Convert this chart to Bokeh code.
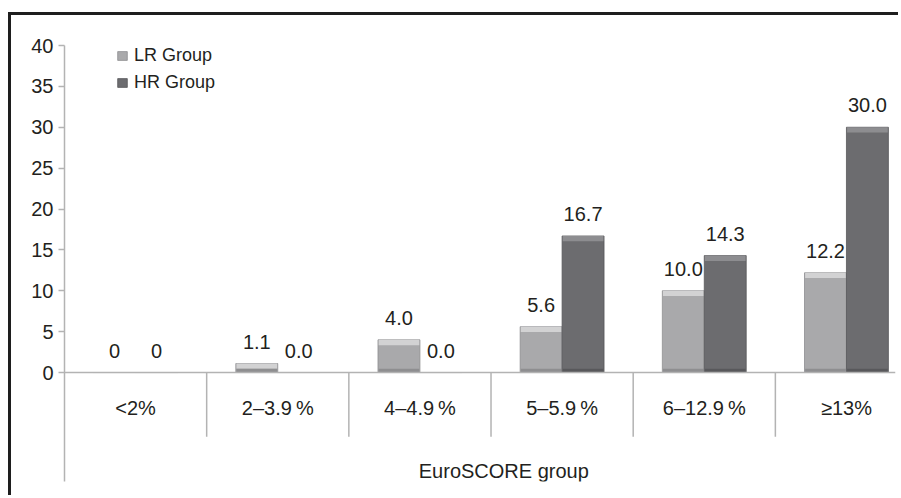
from bokeh.plotting import figure
from bokeh.models import Range1d, FixedTicker, Span, Legend, LegendItem, Label, ColumnDataSource
from bokeh.core.properties import value
from bokeh.embed import file_html
from bokeh.resources import INLINE

categories = ["<2%", "2\u20133.9\u2009%", "4\u20134.9\u2009%", "5\u20135.9\u2009%", "6\u201312.9\u2009%", "\u226513%"]
lr_values = [0, 1.1, 4.0, 5.6, 10.0, 12.2]
hr_values = [0, 0.0, 0.0, 16.7, 14.3, 30.0]
lr_labels = ["0", "1.1", "4.0", "5.6", "10.0", "12.2"]
hr_labels = ["0", "0.0", "0.0", "16.7", "14.3", "30.0"]
y_ticks = [0, 5, 10, 15, 20, 25, 30, 35, 40]
series_names = ["LR Group", "HR Group"]
x_title = "EuroSCORE group"

FONT = "Liberation Sans"
FS = "20px"
TXT = "#231f20"
AXC = "#b3b3b3"
LR_C, LR_TOP, LR_BOT = "#a9a9ab", "#d2d2d3", "#8e8e90"
HR_C, HR_TOP, HR_BOT = "#6c6c6f", "#8d8d90", "#58585b"

n = len(categories)
W_PX, H_PX = 890, 483
BW = 0.295

p = figure(width=W_PX, height=H_PX, output_backend="svg", toolbar_location=None,
           x_axis_location=None, y_axis_location="left",
           x_range=Range1d(0, 5.845), y_range=Range1d(-13.33, 40),
           min_border_left=53, min_border_right=6, min_border_top=30, min_border_bottom=17,
           background_fill_color="white", border_fill_color="white")
p.outline_line_color = None
p.grid.visible = False
p.styles = {"margin-left": "8px", "margin-top": "12px",
            "border-top": "3px solid #1e1e1e", "border-left": "3px solid #1e1e1e"}

ax = p.yaxis[0]
ax.ticker = FixedTicker(ticks=y_ticks)
ax.axis_line_color = AXC
ax.axis_line_width = 1.5
ax.major_tick_line_color = AXC
ax.major_tick_line_width = 1.5
ax.major_tick_out = 6
ax.major_tick_in = 0
ax.minor_tick_line_color = None
ax.major_label_text_font = FONT
ax.major_label_text_font_size = FS
ax.major_label_text_color = TXT
ax.major_label_standoff = 5

# baseline at zero
p.add_layout(Span(location=0, dimension="width", line_color=AXC, line_width=1.5))

# category dividers
div_x = [float(i) for i in range(1, n)]
p.segment(x0=div_x, y0=[0] * len(div_x), x1=div_x, y1=[-7.85] * len(div_x),
          line_color=AXC, line_width=1.5)

centers = [i + 0.5 for i in range(n)]
lr_x = [c - BW / 2 for c in centers]
hr_x = [c + BW / 2 for c in centers]

def bars(xs, vals, main, top, bot):
    src = ColumnDataSource(dict(x=xs, top=vals,
                                htop=[v for v in vals], hbot=[max(v - 0.65, 0) for v in vals],
                                btop=[min(v, 0.45) for v in vals]))
    r = p.vbar(x="x", top="top", bottom=0, width=BW, source=src, fill_color=main,
               line_color=bot, line_width=0.8)
    p.vbar(x="x", top="htop", bottom="hbot", width=BW * 0.97, source=src,
           fill_color=top, line_color=None)
    p.vbar(x="x", top="btop", bottom=0, width=BW * 0.97, source=src,
           fill_color=bot, line_color=None)
    return r

r_lr = bars(lr_x, lr_values, LR_C, LR_TOP, LR_BOT)
r_hr = bars(hr_x, hr_values, HR_C, HR_TOP, HR_BOT)

# value labels
p.text(x=lr_x, y=lr_values, text=lr_labels, text_align="center", text_baseline="middle",
       y_offset=-22, text_font=value(FONT), text_font_size=FS, text_color=TXT)
p.text(x=hr_x, y=hr_values, text=hr_labels, text_align="center", text_baseline="middle",
       y_offset=-22, text_font=value(FONT), text_font_size=FS, text_color=TXT)

# category labels
p.text(x=centers, y=[-4.4] * n, text=categories, text_align="center", text_baseline="middle",
       text_font=value(FONT), text_font_size=FS, text_color=TXT)

p.add_layout(Label(x=3.09, y=-12.1, text=x_title, text_align="center", text_baseline="middle",
                   text_font=FONT, text_font_size=FS, text_color=TXT))

legend = Legend(items=[LegendItem(label=series_names[0], renderers=[r_lr]),
                       LegendItem(label=series_names[1], renderers=[r_hr])],
                location=(52, 388), orientation="vertical",
                glyph_width=12, glyph_height=11, label_height=20, spacing=6,
                padding=0, margin=0, label_standoff=6,
                label_text_font=FONT, label_text_font_size="18px", label_text_color=TXT,
                background_fill_alpha=0, border_line_color=None)
p.add_layout(legend)

open("out.html", "w").write(file_html(p, INLINE))
